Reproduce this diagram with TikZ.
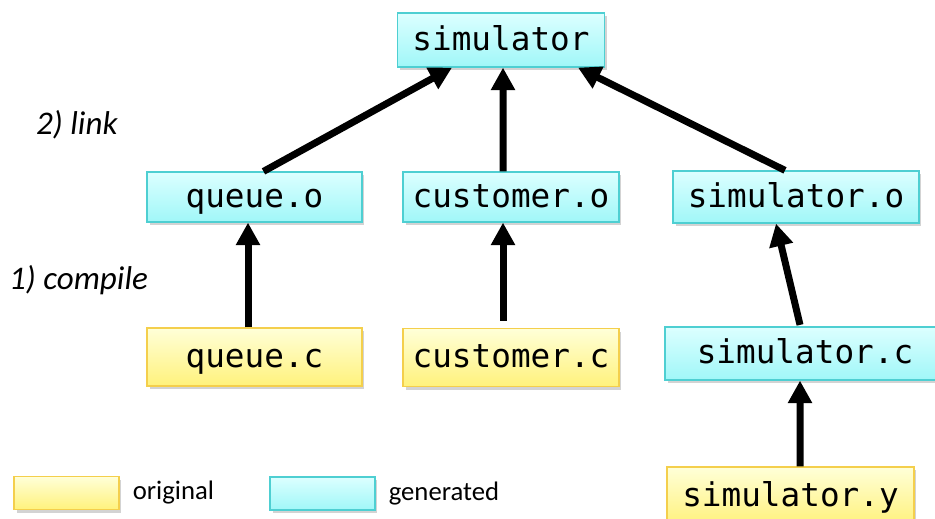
\documentclass[tikz,border=0pt]{standalone}
\usepackage{fontspec}
\setmainfont{Carlito}
\newfontfamily\codefont{DejaVu Sans Mono}
\usepackage{tikz}
\usepackage{xcolor}
\usetikzlibrary{arrows.meta, shadows, positioning}

\definecolor{gentop}{HTML}{DCFFFF}
\definecolor{genbot}{HTML}{A0F7F8}
\definecolor{genline}{HTML}{4ECFD2}
\definecolor{origtop}{HTML}{FFFFD8}
\definecolor{origbot}{HTML}{FFF27C}
\definecolor{origline}{HTML}{F4CF4C}

\begin{document}
\begin{tikzpicture}[x=0.02cm, y=-0.02cm,
    file/.style={rectangle, draw, line width=0.7pt, inner sep=0pt, align=center,
      font=\codefont\fontsize{18.6}{20}\selectfont, text height=14pt, text depth=2.4pt,
      drop shadow={shadow xshift=0.05cm, shadow yshift=-0.06cm, opacity=0.35}},
    gen/.style={file, draw=genline, top color=gentop, bottom color=genbot},
    orig/.style={file, draw=origline, top color=origtop, bottom color=origbot},
    step label/.style={font=\itshape\fontsize{18.8}{21}\selectfont, anchor=west},
    key/.style={font=\fontsize{15.2}{18}\selectfont, anchor=west},
    build/.style={line width=0.14cm, -{Triangle[length=0.45cm, width=0.46cm]}}]

  \useasboundingbox (0,0) rectangle (935,518);

  % targets
  \node[gen, minimum width=4.14cm, minimum height=1.08cm] (sim) at (501,40) {simulator};
  \node[gen, minimum width=4.3cm, minimum height=1cm] (queueo) at (254.5,197) {queue.o};
  \node[gen, minimum width=4.32cm, minimum height=1cm] (custo) at (511,197) {customer.o};
  \node[gen, minimum width=4.92cm, minimum height=1.04cm] (simo) at (796,197) {simulator.o};

  % sources
  \node[orig, minimum width=4.3cm, minimum height=1.16cm] (queuec) at (254.5,357) {queue.c};
  \node[orig, minimum width=4.32cm, minimum height=1.16cm] (custc) at (511,357.5) {customer.c};
  \node[gen, minimum width=5.6cm, minimum height=1.06cm] (simc) at (805,353.5) {simulator.c};
  \node[orig, minimum width=4.94cm, minimum height=1.16cm] (simy) at (790.5,496) {simulator.y};

  % stages
  \node[step label] (link) at (30,125) {2) link};
  \node[step label] (compile) at (3,280) {1) compile};

  % legend
  \node[orig, minimum width=2.1cm, minimum height=0.66cm] (origkey) at (66.5,493) {};
  \node[key, right=0.14cm of origkey] (origtext) {original};
  \node[gen, minimum width=2.1cm, minimum height=0.66cm] (genkey) at (322.5,493.5) {};
  \node[key, right=0.14cm of genkey] (gentext) {generated};

  \path[build]
  ([xshift=0.18cm]queueo.north) edge ([xshift=-0.98cm]sim.south)
  ([xshift=-0.16cm]custo.north) edge ([xshift=0.04cm]sim.south)
  ([xshift=-0.22cm]simo.north) edge ([xshift=1.54cm]sim.south)
  ([xshift=-0.13cm]queuec.north) edge ([xshift=-0.13cm]queueo.south)
  ([xshift=-0.16cm, yshift=0.14cm]custc.north) edge ([xshift=-0.16cm]custo.south)
  ([xshift=-0.1cm, yshift=0.03cm]simc.north) edge ([xshift=-0.4cm]simo.south)
  ([xshift=0.19cm]simy.north) edge ([xshift=-0.1cm]simc.south);

\end{tikzpicture}
\end{document}
